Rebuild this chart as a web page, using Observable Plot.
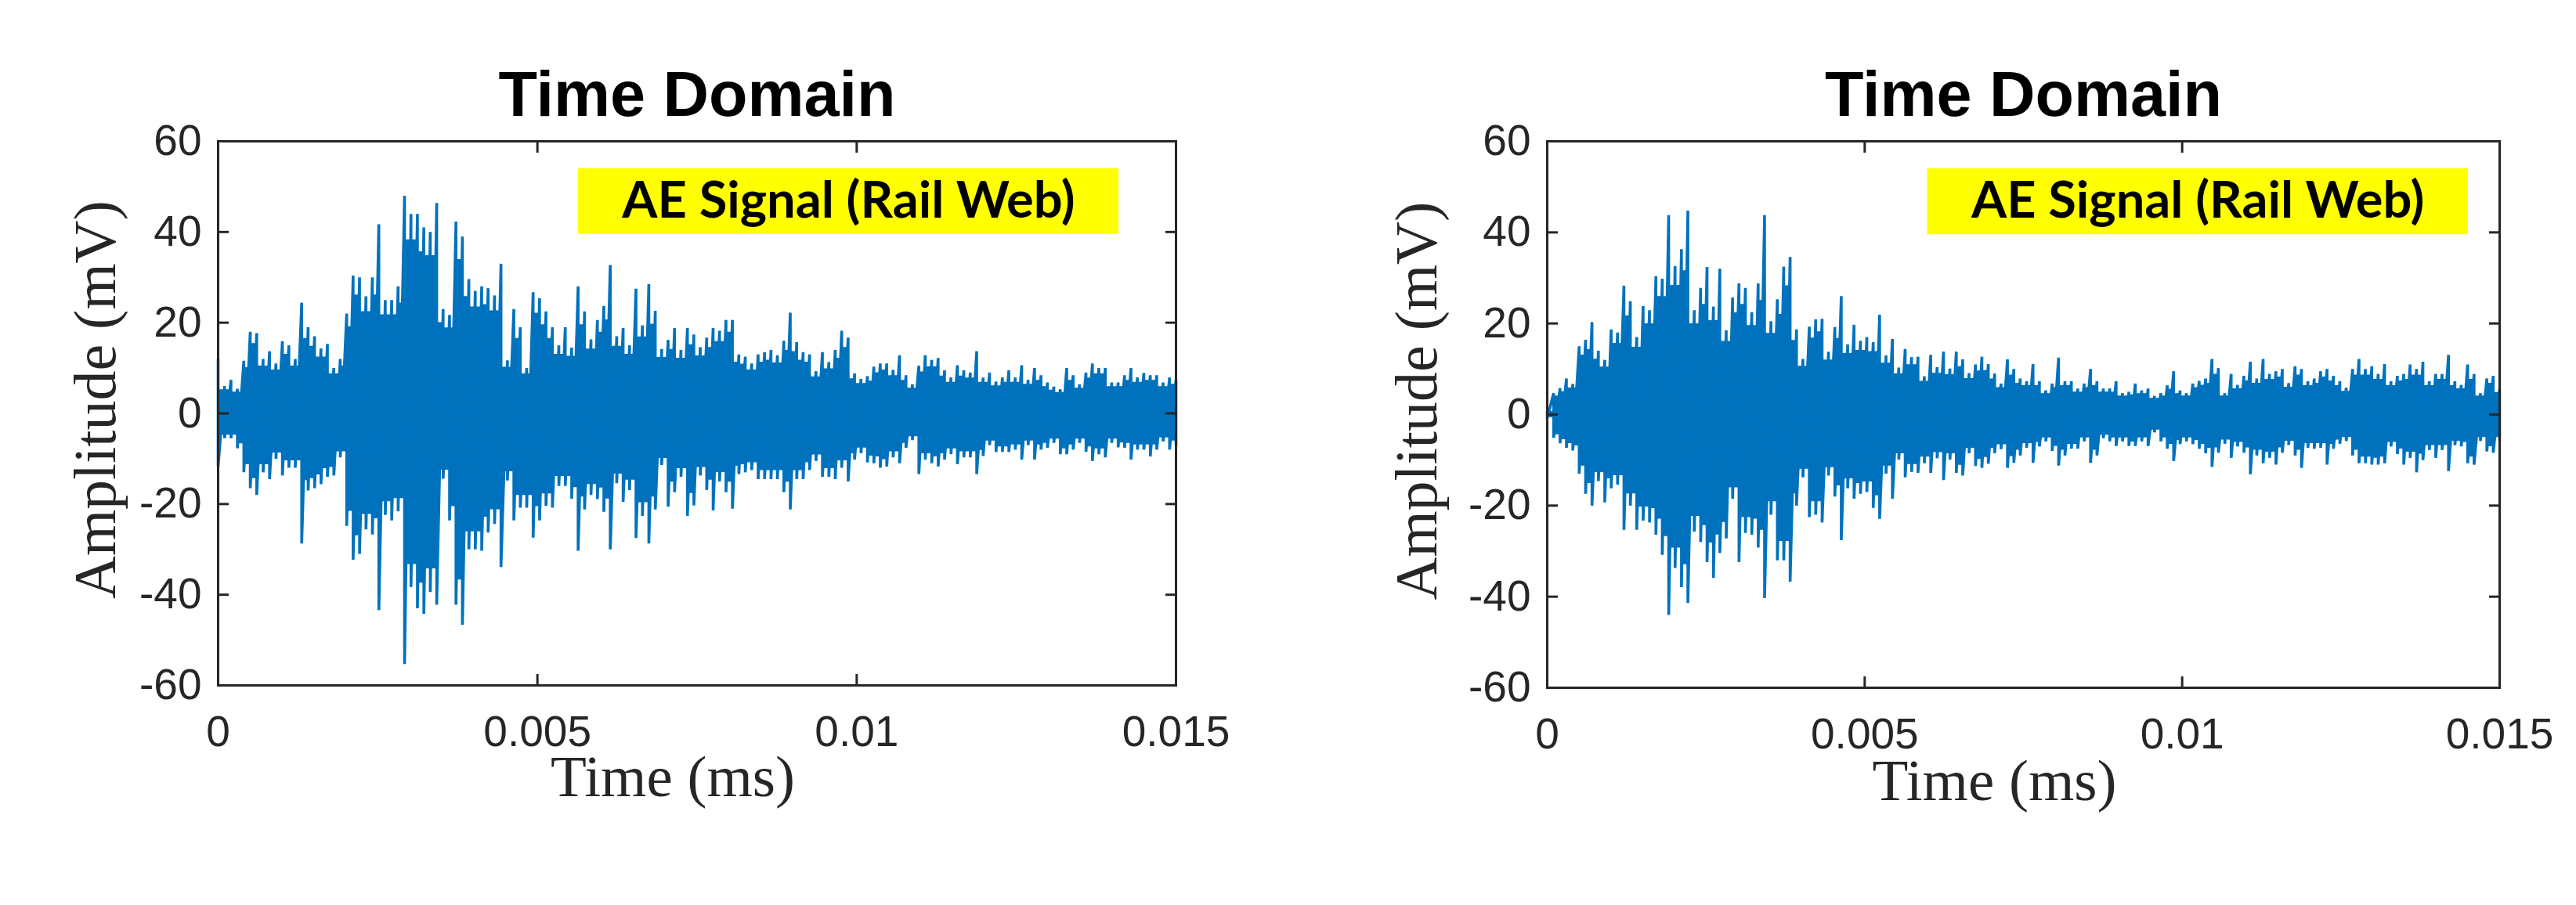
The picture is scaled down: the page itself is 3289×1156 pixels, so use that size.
<!DOCTYPE html>
<html>
<head>
<meta charset="utf-8">
<script src="https://cdn.jsdelivr.net/npm/d3@7"></script>
<script src="https://cdn.jsdelivr.net/npm/@observablehq/plot@0.6"></script>
<style>
html,body{margin:0;padding:0;background:#fff;}
#page{position:relative;width:3289px;height:1156px;overflow:hidden;}
#page svg{position:absolute;top:0;max-width:none;}
</style>
</head>
<body>
<div id="page"></div>
<script>
const titleText = "Time Domain";
const xLabel = "Time (ms)";
const yLabel = "Amplitude (mV)";
const boxLabel = "AE Signal (Rail Web)";
const xTicks = [0, 0.005, 0.01, 0.015];
const yTicks = [-60, -40, -20, 0, 20, 40, 60];
const sampleCount = 150;
const tEnd = 0.015;

// Upper and lower signal peaks, one pair per time column
const upperA = [
12,6,7.4,5.4,11.6,18,17.7,12,13.7,11,
15.9,15,12,24.4,19,17,14.3,15.3,10,12,
22,30.4,30,25.8,30,41.7,25,25,28,48,
44,44,41,40,46.4,23,21.7,42.3,39,29.6,
27,28,27.6,26,33,11.7,23,19,10,26.7,
25.4,22.5,19,15,19,14.5,28,22.5,16.3,20.6,
23.7,32.7,17,18.8,15,27.5,19.4,28.5,22.6,14.2,
16.2,18.8,14,18.8,17.4,14.6,16.7,18.8,18.2,20.6,
20.6,13,12.5,11,13,13.5,14,12.8,16,22.2,
15.7,13.5,13,9.3,13.5,11.3,14,18.2,16.7,8.8,
7.6,8.2,10.3,11,11,9.6,12.8,8.4,6.4,10.5,
12.8,11.8,12.2,9.5,7.9,10.6,9.5,9,13.7,7.9,
9,7,7.9,9.5,7.9,10.6,7.4,10,8.4,6.8,
5.9,5.3,10,8.4,6.4,9,11,10,10,6.8,
6.8,8.4,10,7.9,8.9,8.4,8.4,6.8,7.9,7.4];
const lowerA = [
-11.7,-5.5,-5.5,-7.7,-13,-16.5,-18,-13,-14.5,-10,
-13.7,-12,-12,-28.7,-17,-16.5,-15.6,-14,-13.7,-9.7,
-24.8,-32.3,-31,-25.6,-26.7,-43.4,-22.4,-23.6,-21.6,-55.3,
-38.3,-43,-44.2,-39.4,-42.2,-14.4,-23.6,-42.2,-46.6,-30,
-30,-30.3,-26.3,-24.4,-33.9,-14.8,-23.6,-20.8,-20.8,-27.4,
-23.6,-20.4,-20.8,-16,-16,-18.8,-30.3,-21.2,-18,-18.9,
-21.7,-30,-15.4,-19.5,-16.9,-27.5,-22.6,-28.7,-21.2,-11.4,
-20.6,-17.4,-14,-22.6,-20.3,-13.7,-16.9,-21.4,-15,-17.4,
-21,-13.4,-13,-12.5,-14.5,-14.5,-14.5,-14.5,-17.4,-21.2,
-14.5,-14.5,-12.5,-10.5,-14,-14,-14.5,-12,-15,-10.2,
-8.8,-10.8,-11,-12,-11.7,-9.7,-11,-7.6,-5.9,-13.4,
-10.2,-11,-11.7,-10.2,-9,-11.2,-9.7,-9.7,-13.4,-9.4,
-7,-8.5,-8.5,-8.5,-8,-10.2,-7,-10.2,-8,-7.6,
-6.5,-9,-9,-8,-6.5,-8.5,-10.5,-9,-9.7,-6.5,
-7.5,-7.6,-10.2,-8,-8,-9.5,-8,-6.2,-8,-7];
const upperB = [
0.8,4.7,5.8,7.9,6.7,15,16.4,20.3,14,12,
18.7,18,28.3,24.9,17,23.8,22.9,30.4,29.8,43.8,
32.6,36.3,44.8,22.9,27.8,32.4,23.7,32,18.5,25.7,
28.8,27.8,22.5,28.8,43.8,20.5,25.3,32.5,34.6,18.7,
12.2,19.3,20.9,21,13.8,19.2,26,15.4,19.7,16.2,
17,15.9,21.9,13,16.6,10.3,14.4,12.6,12.7,8.4,
13.1,10.4,13.8,10.1,13.8,12.1,9.1,11,12.7,11.1,
9,6.8,12.1,10,7.9,7.3,11.1,7.3,5.3,6.8,
12.5,7.3,7.3,5.7,6.8,10,7.3,5.7,5.7,7.3,
4.7,5,6.8,5.3,5.7,4.1,4.7,6.4,9.5,5.3,
4.7,6.8,7.4,7.9,12.2,10.2,4.7,8.9,6.5,8.5,
11.6,7.9,12.2,8.9,9.5,10,6.9,10.6,10,7.3,
7.9,9.5,10,8.5,7.3,5.9,10,12.2,10,10.6,
8.9,11.1,7.3,8.5,8.9,11,10,11.6,7.3,8.9,
8.9,13.1,7.3,6.5,11,8.9,4.7,7.9,8.5,5.6];
const lowerB = [
-0.8,-5.1,-6.3,-7.3,-7.9,-13,-17.4,-20,-14.6,-19.3,
-16.2,-15.4,-25.3,-20,-25.3,-23.3,-23.7,-26.4,-30.8,-44,
-33.7,-37.9,-41.4,-25.7,-28,-32.4,-35.9,-30.4,-27.2,-18.5,
-32.4,-26,-26.4,-29.2,-40.3,-22,-32,-32,-36.7,-20,
-13.8,-22.5,-22,-23.7,-13.4,-18,-27.6,-16.2,-18.5,-17.4,
-17,-20.5,-22.9,-13,-18.5,-9.9,-13.8,-12.6,-12.8,-10.7,
-12.8,-9.6,-14.4,-9.9,-12.8,-13.4,-8.5,-11.3,-11.7,-10.8,
-8.5,-7.6,-11.7,-10.6,-9,-7.3,-10.6,-7,-5.9,-8,
-11.2,-9,-7.5,-7.5,-5.9,-10.6,-9,-5.2,-5.9,-6.9,
-5.9,-6.9,-6.9,-5.9,-6.9,-3.9,-5.9,-7.5,-10.2,-6.5,
-5.9,-6.5,-7.5,-8.5,-11.5,-8.4,-6.4,-9.5,-7,-8.4,
-13.1,-9,-10.7,-9.5,-11,-8.4,-6.7,-9,-11.7,-7.3,
-7.5,-7.3,-11,-7.5,-6.4,-5.8,-9,-10.7,-10.7,-11,
-11,-10.7,-7,-8.7,-11,-9.5,-12.7,-10,-7.8,-9.5,
-7.8,-12.4,-6.7,-7,-10.7,-11,-5.8,-8.1,-8.4,-5.8];

// Label-box corners, in axis units
const boxA = {x1: 0.005642, x2: 0.014105, y1: 53.97, y2: 39.5};
const boxB = {x1: 0.005988, x2: 0.014506, y1: 53.98, y2: 39.5};

const INK = "#262626", BLUE = "#0072BD";
const SANS = "'Liberation Sans', Arial, sans-serif";
const SERIF = "'Liberation Serif', 'Times New Roman', serif";
const coreShare = 0.87;

function panel({upper, lower, box, left, width, m, xLabelDx, xLabelDy, yLabelDx}) {
  const times = d3.range(sampleCount).map(i => i * tEnd / (sampleCount - 1));
  const rows = times.map((t, i) => {
    const n = Math.min(i + 1, sampleCount - 1);
    return {t, coreHi: coreShare * Math.min(upper[i], upper[n]), coreLo: coreShare * Math.max(lower[i], lower[n])};
  });
  const signal = times.flatMap((t, i) => [{t, v: upper[i]}, {t, v: lower[i]}]);
  const svg = Plot.plot({
    width, height: 1156,
    marginLeft: m.l, marginRight: m.r, marginTop: m.t, marginBottom: m.b,
    style: {background: "#fff", fontFamily: SANS, color: INK, overflow: "visible"},
    x: {domain: [0, tEnd]},
    y: {domain: [-60, 60]},
    marks: [
      Plot.areaY(rows, {x: "t", y1: "coreLo", y2: "coreHi", fill: BLUE, curve: "step-after"}),
      Plot.line(signal, {x: "t", y: "v", stroke: BLUE, strokeWidth: 3.6, strokeLinejoin: "bevel"}),
      Plot.rect([box], {x1: "x1", x2: "x2", y1: "y1", y2: "y2", fill: "#FFFF00"}),
      Plot.text([boxLabel], {
        x: () => (box.x1 + box.x2) / 2, y: () => (box.y1 + box.y2) / 2,
        fontFamily: "Lato, sans-serif", fontWeight: 700, fontSize: 65, fill: "#000"
      }),
      Plot.axisX({anchor: "bottom", ticks: xTicks, tickSize: -14, tickPadding: 52, strokeWidth: 3, fontSize: 55, label: null, tickFormat: d => String(d)}),
      Plot.axisX({anchor: "top", ticks: xTicks, tickSize: -14, strokeWidth: 3, tickFormat: () => "", label: null}),
      Plot.axisY({anchor: "left", ticks: yTicks, tickSize: -14, tickPadding: 35, strokeWidth: 3, fontSize: 55, label: null, tickFormat: d => String(d)}),
      Plot.axisY({anchor: "right", ticks: yTicks, tickSize: -14, strokeWidth: 3, tickFormat: () => "", label: null}),
      Plot.frame({stroke: INK, strokeWidth: 3}),
      Plot.text([titleText], {frameAnchor: "top", dy: -90, fontFamily: SANS, fontWeight: 700, fontSize: 81, fill: "#000"}),
      Plot.text([xLabel], {frameAnchor: "bottom", lineAnchor: "bottom", dy: xLabelDy, dx: xLabelDx, fontFamily: SERIF, fontSize: 75, fill: INK}),
      Plot.text([yLabel], {x: () => 0, y: () => 3, rotate: -90, lineAnchor: "bottom", dx: yLabelDx, fontFamily: SERIF, fontSize: 76, fill: INK})
    ]
  });
  svg.style.left = left + "px";
  document.getElementById("page").appendChild(svg);
}

panel({upper: upperA, lower: lowerA, box: boxA, left: 0, width: 1640,
  m: {l: 278, r: 139, t: 180, b: 281}, xLabelDx: -31, xLabelDy: 141, yLabelDx: -132});
panel({upper: upperB, lower: lowerB, box: boxB, left: 1640, width: 1649,
  m: {l: 335, r: 98, t: 180, b: 278}, xLabelDx: -37, xLabelDy: 143, yLabelDx: -142});
</script>
</body>
</html>
